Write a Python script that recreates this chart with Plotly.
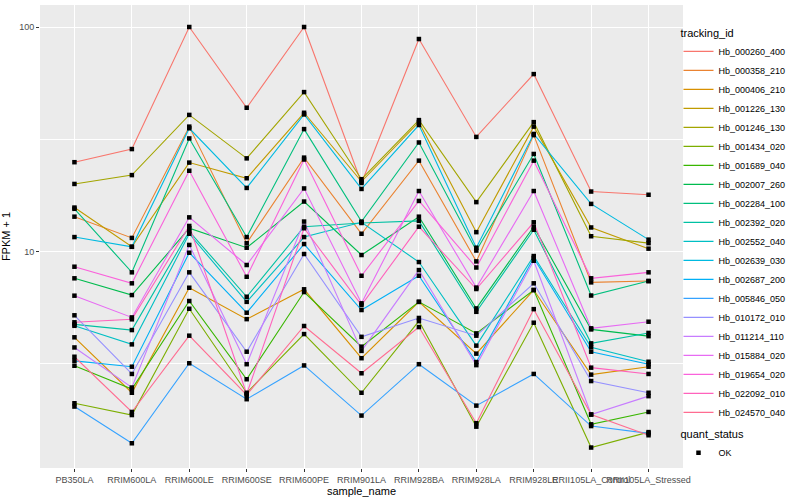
import plotly.graph_objects as go

samples = ["PB350LA", "RRIM600LA", "RRIM600LE", "RRIM600SE", "RRIM600PE", "RRIM901LA",
           "RRIM928BA", "RRIM928LA", "RRIM928LE", "RRII105LA_Control", "RRII105LA_Stressed"]

tracking_ids = ["Hb_000260_400", "Hb_000358_210", "Hb_000406_210", "Hb_001226_130", "Hb_001246_130",
                "Hb_001434_020", "Hb_001689_040", "Hb_002007_260", "Hb_002284_100", "Hb_002392_020",
                "Hb_002552_040", "Hb_002639_030", "Hb_002687_200", "Hb_005846_050", "Hb_010172_010",
                "Hb_011214_110", "Hb_015884_020", "Hb_019654_020", "Hb_022092_010", "Hb_024570_040"]

# FPKM + 1 values per gene, one per sample
Hb_000260_400 = [25.0, 28.6, 100, 43.7, 100, 20.2, 88.4, 32.4, 61.7, 18.5, 17.9]
Hb_000358_210 = [14.3, 11.5, 36.0, 10.9, 26.2, 12.0, 25.4, 9.04, 33.0, 7.29, 7.39]
Hb_000406_210 = [4.15, 2.35, 6.90, 5.00, 6.79, 3.35, 5.97, 3.51, 6.74, 2.83, 3.07]
Hb_001226_130 = [15.7, 10.5, 24.9, 21.2, 41.5, 20.5, 37.7, 12.2, 36.0, 12.8, 10.3]
Hb_001246_130 = [20.0, 21.9, 40.6, 26.0, 51.3, 21.0, 38.5, 16.6, 37.7, 11.7, 10.9]
Hb_001434_020 = [2.11, 1.87, 5.56, 2.35, 4.29, 2.35, 4.90, 1.66, 4.82, 1.34, 1.57]
Hb_001689_040 = [3.10, 2.44, 6.02, 2.70, 6.60, 3.77, 5.97, 4.32, 6.74, 1.70, 1.93]
Hb_002007_260 = [7.60, 6.40, 12.7, 10.4, 16.7, 9.65, 14.3, 5.58, 12.9, 4.50, 4.20]
Hb_002284_100 = [15.5, 8.08, 31.9, 11.6, 35.1, 13.6, 30.6, 10.1, 27.2, 6.37, 7.39]
Hb_002392_020 = [4.74, 4.47, 12.3, 6.29, 12.9, 13.4, 13.7, 5.39, 12.5, 3.90, 4.34]
Hb_002552_040 = [4.67, 3.86, 12.0, 5.97, 11.6, 13.5, 8.98, 3.81, 9.55, 3.75, 3.23]
Hb_002639_030 = [11.6, 10.5, 35.4, 19.2, 40.8, 19.0, 36.6, 10.4, 33.4, 16.3, 11.3]
Hb_002687_200 = [3.26, 3.07, 9.88, 5.34, 10.8, 5.49, 7.80, 3.22, 9.36, 3.58, 3.15]
Hb_005846_050 = [2.04, 1.40, 3.18, 2.20, 3.11, 1.86, 3.15, 2.06, 2.85, 1.67, 1.55]
Hb_010172_010 = [5.20, 2.85, 8.08, 3.58, 9.75, 4.17, 5.06, 4.22, 7.22, 2.65, 2.35]
Hb_011214_110 = [3.74, 2.48, 10.7, 3.15, 13.6, 3.61, 8.27, 3.12, 9.10, 1.88, 2.27]
Hb_015884_020 = [6.36, 5.09, 14.2, 8.71, 19.1, 5.88, 18.6, 6.91, 18.6, 4.55, 4.87]
Hb_019654_020 = [8.56, 7.22, 22.9, 7.72, 25.7, 7.80, 16.8, 8.49, 25.4, 7.60, 8.08]
Hb_022092_010 = [4.84, 4.99, 13.0, 2.32, 12.7, 5.78, 12.9, 6.81, 13.5, 3.04, 2.85]
Hb_024570_040 = [3.40, 1.93, 4.22, 2.30, 4.66, 2.87, 4.61, 1.72, 5.54, 1.88, 1.52]

series_values = [Hb_000260_400, Hb_000358_210, Hb_000406_210, Hb_001226_130, Hb_001246_130,
                 Hb_001434_020, Hb_001689_040, Hb_002007_260, Hb_002284_100, Hb_002392_020,
                 Hb_002552_040, Hb_002639_030, Hb_002687_200, Hb_005846_050, Hb_010172_010,
                 Hb_011214_110, Hb_015884_020, Hb_019654_020, Hb_022092_010, Hb_024570_040]

colors = ["#F8766D", "#EA8331", "#D89000", "#C09B00", "#A3A500", "#7CAE00", "#39B600", "#00BB4E",
          "#00BF7D", "#00C1A3", "#00BFC4", "#00BAE0", "#00B0F6", "#35A2FF", "#9590FF", "#C77CFF",
          "#E76BF3", "#FA62DB", "#FF62BC", "#FF6C91"]

FONT = "Liberation Sans, Arial, sans-serif"

fig = go.Figure()
for name, vals, col in zip(tracking_ids, series_values, colors):
    fig.add_trace(go.Scatter(x=samples, y=vals, mode="lines", name=name,
                             line=dict(color=col, width=1.1), legend="legend"))

all_x, all_y = [], []
for vals in series_values:
    all_x.extend(samples)
    all_y.extend(vals)
fig.add_trace(go.Scatter(x=all_x, y=all_y, mode="markers", name="OK",
                         marker=dict(color="black", size=4.5, symbol="square"),
                         legend="legend2"))

fig.update_layout(
    width=800, height=500,
    margin=dict(l=40, r=117, t=5, b=32, autoexpand=False),
    paper_bgcolor="white", plot_bgcolor="#EBEBEB",
    font=dict(family=FONT, size=10, color="black"),
    legend=dict(x=0.993, xanchor="left", y=0.962, yanchor="top",
                title=dict(text="tracking_id", font=dict(size=11)),
                font=dict(size=9), tracegroupgap=0, bgcolor="rgba(0,0,0,0)",
                itemwidth=30),
    legend2=dict(x=0.993, xanchor="left", y=0.095, yanchor="top",
                 title=dict(text="quant_status", font=dict(size=11)),
                 font=dict(size=9), bgcolor="rgba(0,0,0,0)", itemwidth=30),
    showlegend=True,
)

fig.update_xaxes(type="category", categoryorder="array", categoryarray=samples,
                 range=[-0.6, 10.6], showgrid=True, gridcolor="white", gridwidth=1.1,
                 ticks="outside", ticklen=3, tickcolor="#333333", tickangle=0,
                 tickfont=dict(size=9, color="#4D4D4D", family=FONT),
                 title=dict(text="sample_name", font=dict(size=11), standoff=1),
                 zeroline=False, showline=False, automargin=False)

fig.update_yaxes(type="log", range=[0.036, 2.098], tickvals=[10, 100], ticktext=["10", "100"],
                 showgrid=True, gridcolor="white", gridwidth=1.1,
                 minor=dict(tickvals=[3.1623, 31.623], showgrid=True, gridcolor="white", gridwidth=0.5),
                 ticks="outside", ticklen=3, tickcolor="#333333",
                 tickfont=dict(size=9, color="#4D4D4D", family=FONT),
                 title=dict(text="FPKM + 1", font=dict(size=11), standoff=6),
                 zeroline=False, showline=False, automargin=False)

fig.write_html("out.html", config={"displayModeBar": False},
               post_script="document.body.style.margin='0';document.body.style.padding='0';")
